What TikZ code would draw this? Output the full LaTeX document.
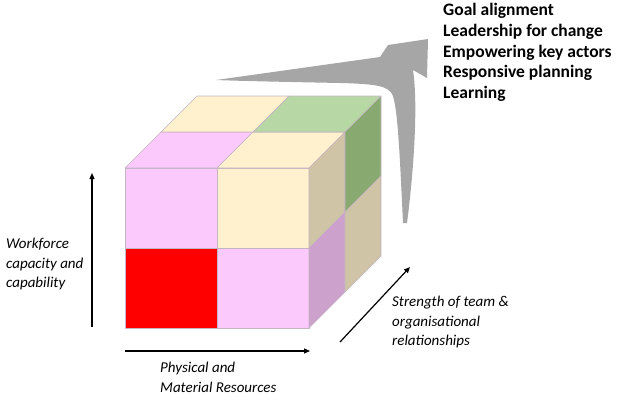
\documentclass[tikz,border=0pt]{standalone}
\usepackage{fontspec}
\setmainfont{Carlito}
\usepackage{tikz}
\usetikzlibrary{calc, arrows.meta}
\usetikzlibrary{positioning}

\definecolor{pinkcell}{HTML}{FBC9FB}
\definecolor{creamcell}{HTML}{FFF0CE}
\definecolor{redcell}{HTML}{FF0000}
\definecolor{greencell}{HTML}{B7D7A4}
\definecolor{darkgreencell}{HTML}{88AA70}
\definecolor{tancell}{HTML}{D0C4A6}
\definecolor{purplecell}{HTML}{CCA1CC}
\definecolor{cellline}{HTML}{C4B4C4}
\definecolor{sweepgray}{HTML}{A6A6A6}

\tikzset{
    cell/.style={draw=cellline, line width=0.6pt, line join=round},
    axis/.style={-{Triangle[length=6pt,width=5pt]}, line width=1.2pt},
    axislabel/.style={font=\itshape\fontsize{15}{19.5}\selectfont, align=left, inner sep=0pt},
    goallist/.style={font=\bfseries\fontsize{17.5}{20.8}\selectfont, align=left, inner sep=0pt},
}

\NewDocumentCommand{\cubecell}{%
    m       % fill colour
    mmmm    % corners of the cell
    }{%
    \filldraw[cell, fill=#1] (#2) -- (#3) -- (#4) -- (#5) -- cycle;
}

\begin{document}
\begin{tikzpicture}[x=1pt, y=-1pt]
    \useasboundingbox (0,0) rectangle (618,400);

    % grid of the cube: column, row, depth
    \foreach \i in {0,1,2}
        \foreach \j in {0,1,2}
            \foreach \k in {0,1,2}
                \coordinate (p\i\j\k) at ({125+92*\i+36*\k},{168+80*\j-36*\k});

    % front face
    \cubecell{pinkcell}{p000}{p100}{p110}{p010}
    \cubecell{creamcell}{p100}{p200}{p210}{p110}
    \cubecell{redcell}{p010}{p110}{p120}{p020}
    \cubecell{pinkcell}{p110}{p210}{p220}{p120}
    % top face
    \cubecell{pinkcell}{p000}{p100}{p101}{p001}
    \cubecell{creamcell}{p100}{p200}{p201}{p101}
    \cubecell{creamcell}{p001}{p101}{p102}{p002}
    \cubecell{greencell}{p101}{p201}{p202}{p102}
    % right face
    \cubecell{tancell}{p200}{p201}{p211}{p210}
    \cubecell{darkgreencell}{p201}{p202}{p212}{p211}
    \cubecell{purplecell}{p210}{p211}{p221}{p220}
    \cubecell{tancell}{p211}{p212}{p222}{p221}

    % sweeping arrow
    \fill[sweepgray] (216,80) -- (380,57) -- (388,45) -- (428,39) -- (427,78) -- (413,70)
        .. controls (419,110) and (412,185) .. (407,223) -- (403,223)
        .. controls (400,160) and (398,112) .. (393,96)
        .. controls (389,86) and (378,84) .. (340,83)
        .. controls (290,82) and (240,81) .. (216,80) -- cycle;

    % axes
    \coordinate (wfbot) at (92,327);
    \coordinate (wftop) at (92,173);
    \coordinate (resleft) at (125,351);
    \coordinate (resright) at (310,351);
    \coordinate (relbot) at (340,342);
    \coordinate (reltop) at (410,267);
    \draw[axis] (wfbot) -- (wftop);
    \draw[axis] (resleft) -- (resright);
    \draw[axis] (relbot) -- (reltop);

    \node[axislabel, anchor=north west] (workforce) at (6,238) {Workforce\\capacity and\\capability};
    \node[axislabel, anchor=north west] (resources) at (160,362) {Physical and\\Material Resources};
    \node[axislabel, anchor=north west] (relations) at (392,296) {Strength of team \&\\organisational\\relationships};

    \node[goallist, anchor=north west] (goals) at (443,3) {Goal alignment\\Leadership for change\\Empowering key actors\\Responsive planning\\Learning};
\end{tikzpicture}
\end{document}
